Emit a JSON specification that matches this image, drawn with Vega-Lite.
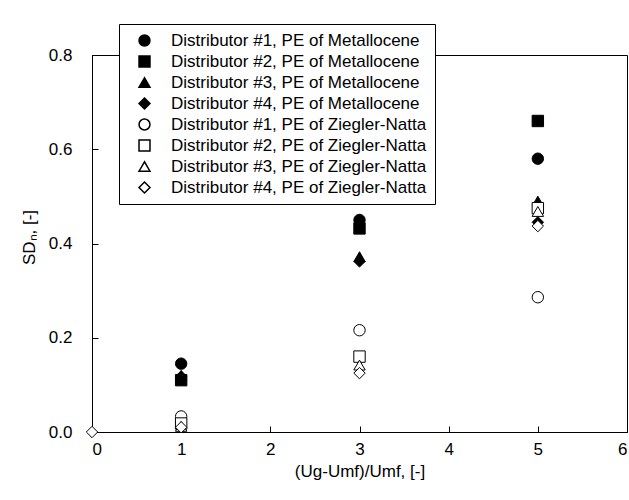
{
  "$schema": "https://vega.github.io/schema/vega-lite/v6.json",
  "autosize": {"type": "none"},
  "padding": {"left": 92, "top": 55, "right": 2, "bottom": 68},
  "width": 535,
  "height": 377,
  "background": "white",
  "config": {
    "font": "Liberation Sans",
    "view": {"stroke": "black", "strokeWidth": 1},
    "axis": {
      "grid": false,
      "domainColor": "black",
      "tickColor": "black",
      "labelColor": "black",
      "titleColor": "black",
      "labelFontSize": 17,
      "titleFontSize": 17,
      "titleFontWeight": "normal",
      "tickSize": -6,
      "labelFont": "Liberation Sans",
      "titleFont": "Liberation Sans"
    },
    "legend": {
      "labelFont": "Liberation Sans"
    }
  },
  "data": {
    "values": [
      {"u": 1, "sd": 0.145, "series": "Distributor #1, PE of Metallocene"},
      {"u": 3, "sd": 0.45, "series": "Distributor #1, PE of Metallocene"},
      {"u": 5, "sd": 0.58, "series": "Distributor #1, PE of Metallocene"},
      {"u": 1, "sd": 0.11, "series": "Distributor #2, PE of Metallocene"},
      {"u": 3, "sd": 0.432, "series": "Distributor #2, PE of Metallocene"},
      {"u": 5, "sd": 0.66, "series": "Distributor #2, PE of Metallocene"},
      {"u": 1, "sd": 0.12, "series": "Distributor #3, PE of Metallocene"},
      {"u": 3, "sd": 0.372, "series": "Distributor #3, PE of Metallocene"},
      {"u": 5, "sd": 0.49, "series": "Distributor #3, PE of Metallocene"},
      {"u": 1, "sd": 0.118, "series": "Distributor #4, PE of Metallocene"},
      {"u": 3, "sd": 0.362, "series": "Distributor #4, PE of Metallocene"},
      {"u": 5, "sd": 0.445, "series": "Distributor #4, PE of Metallocene"},
      {"u": 1, "sd": 0.033, "series": "Distributor #1, PE of Ziegler-Natta"},
      {"u": 3, "sd": 0.216, "series": "Distributor #1, PE of Ziegler-Natta"},
      {"u": 5, "sd": 0.286, "series": "Distributor #1, PE of Ziegler-Natta"},
      {"u": 1, "sd": 0.018, "series": "Distributor #2, PE of Ziegler-Natta"},
      {"u": 3, "sd": 0.16, "series": "Distributor #2, PE of Ziegler-Natta"},
      {"u": 5, "sd": 0.475, "series": "Distributor #2, PE of Ziegler-Natta"},
      {"u": 1, "sd": 0.012, "series": "Distributor #3, PE of Ziegler-Natta"},
      {"u": 3, "sd": 0.142, "series": "Distributor #3, PE of Ziegler-Natta"},
      {"u": 5, "sd": 0.468, "series": "Distributor #3, PE of Ziegler-Natta"},
      {"u": 0, "sd": 0, "series": "Distributor #4, PE of Ziegler-Natta"},
      {"u": 1, "sd": 0.01, "series": "Distributor #4, PE of Ziegler-Natta"},
      {"u": 3, "sd": 0.125, "series": "Distributor #4, PE of Ziegler-Natta"},
      {"u": 5, "sd": 0.437, "series": "Distributor #4, PE of Ziegler-Natta"}
    ]
  },
  "mark": {"type": "point", "filled": true, "size": 130, "stroke": "black", "strokeWidth": 1, "opacity": 1},
  "encoding": {
    "x": {
      "field": "u", "type": "quantitative",
      "scale": {"domain": [0, 6], "nice": false},
      "axis": {"title": "(Ug-Umf)/Umf, [-]", "values": [0, 1, 2, 3, 4, 5, 6], "format": "d", "labelPadding": 15, "titlePadding": 6}
    },
    "y": {
      "field": "sd", "type": "quantitative",
      "scale": {"domain": [0, 0.8], "nice": false},
      "axis": {"title": "SDₙ, [-]", "values": [0, 0.2, 0.4, 0.6, 0.8], "format": ".1f", "labelPadding": 26, "titlePadding": 10, "titleY": 182}
    },
    "shape": {
      "field": "series", "type": "nominal",
      "scale": {
        "domain": ["Distributor #1, PE of Metallocene", "Distributor #2, PE of Metallocene", "Distributor #3, PE of Metallocene", "Distributor #4, PE of Metallocene", "Distributor #1, PE of Ziegler-Natta", "Distributor #2, PE of Ziegler-Natta", "Distributor #3, PE of Ziegler-Natta", "Distributor #4, PE of Ziegler-Natta"],
        "range": ["circle", "square", "triangle-up", "diamond", "circle", "square", "triangle-up", "diamond"]
      },
      "legend": {
        "title": null,
        "orient": "none",
        "legendX": 27,
        "legendY": -31,
        "labelFontSize": 17,
        "labelColor": "black",
        "labelLimit": 400,
        "symbolSize": 120,
        "rowPadding": 3,
        "padding": 8,
        "symbolOffset": 9,
        "labelOffset": 18,
        "strokeColor": "black",
        "fillColor": "white",
        "encode": {
          "symbols": {"update": {"stroke": {"value": "black"}, "strokeWidth": {"value": 1}}}
        }
      }
    },
    "fill": {
      "field": "series", "type": "nominal",
      "scale": {
        "domain": ["Distributor #1, PE of Metallocene", "Distributor #2, PE of Metallocene", "Distributor #3, PE of Metallocene", "Distributor #4, PE of Metallocene", "Distributor #1, PE of Ziegler-Natta", "Distributor #2, PE of Ziegler-Natta", "Distributor #3, PE of Ziegler-Natta", "Distributor #4, PE of Ziegler-Natta"],
        "range": ["black", "black", "black", "black", "white", "white", "white", "white"]
      },
      "legend": {"title": null}
    }
  }
}
